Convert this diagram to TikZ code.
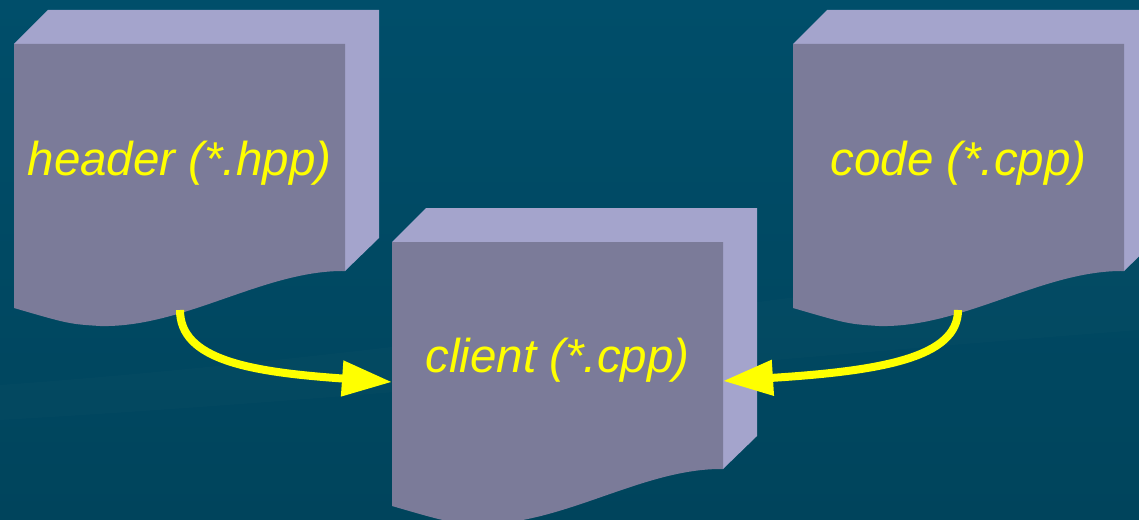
\documentclass[tikz,border=0pt]{standalone}
\usepackage{fontspec}
\setmainfont{Liberation Sans}
\usetikzlibrary{arrows.meta}

\definecolor{slidebg}{RGB}{0,78,106}
\definecolor{slidebgdark}{RGB}{0,68,92}
\definecolor{facefront}{RGB}{123,123,153}
\definecolor{faceside}{RGB}{164,164,204}
\definecolor{hiyellow}{RGB}{255,255,0}

\begin{document}
\begin{tikzpicture}[
    x=1pt, y=-1pt,
    >={Triangle[length=50pt,width=34pt]},
    sideface/.style={fill=faceside},
    frontface/.style={fill=facefront},
    filelabel/.style={anchor=base, inner sep=0pt, text=hiyellow,
        font=\fontsize{47.5}{56}\selectfont\itshape},
    include/.style={->, draw=hiyellow, line width=8pt}
]

%-------------------------
% Background
%-------------------------
\clip (0,0) rectangle (1139,519);
\shade[top color=slidebg, bottom color=slidebgdark] (0,0) rectangle (1139,519);
\fill[white, opacity=0.012] (0,385) .. controls (350,360) and (750,300) .. (1139,255)
    -- (1139,330) .. controls (750,360) and (350,400) .. (0,420) -- cycle;


%-------------------------
% Header file
%-------------------------
\begin{scope}[shift={(14,44)}]
\fill[sideface] (0,0) -- (34,-34) -- (365,-34) -- (365,194) -- (331,227) -- (331,0) -- cycle;
\fill[frontface] (0,0) -- (331,0) -- (331,227)
    .. controls (250,226) and (170,284) .. (86,282)
    .. controls (55,280) .. (0,264) -- cycle;
\node[filelabel] (hdr) at (165.5,131) {header (*.hpp)};
\coordinate (hdrfoot) at (166,266);
\end{scope}


%-------------------------
% Code file
%-------------------------
\begin{scope}[shift={(793,44)}]
\fill[sideface] (0,0) -- (34,-34) -- (365,-34) -- (365,194) -- (331,227) -- (331,0) -- cycle;
\fill[frontface] (0,0) -- (331,0) -- (331,227)
    .. controls (250,226) and (170,284) .. (86,282)
    .. controls (55,280) .. (0,264) -- cycle;
\node[filelabel] (code) at (165.5,131) {code (*.cpp)};
\coordinate (codefoot) at (165,266);
\end{scope}


%-------------------------
% Client file
%-------------------------
\begin{scope}[shift={(392,242)}]
\fill[sideface] (0,0) -- (34,-34) -- (365,-34) -- (365,194) -- (331,227) -- (331,0) -- cycle;
\fill[frontface] (0,0) -- (331,0) -- (331,227)
    .. controls (250,226) and (170,284) .. (86,282)
    .. controls (55,280) .. (0,264) -- cycle;
\node[filelabel] (client) at (165.5,130) {client (*.cpp)};
\coordinate (clientwest) at (0,140);
\coordinate (clienteast) at (331,139);
\end{scope}


%-------------------------
% Includes
%-------------------------
\draw[include] (hdrfoot) .. controls +(0,50) and +(-142,-10) .. (clientwest);
\draw[include] (codefoot) .. controls +(0,48) and +(157,-10) .. (clienteast);
\end{tikzpicture}
\end{document}
